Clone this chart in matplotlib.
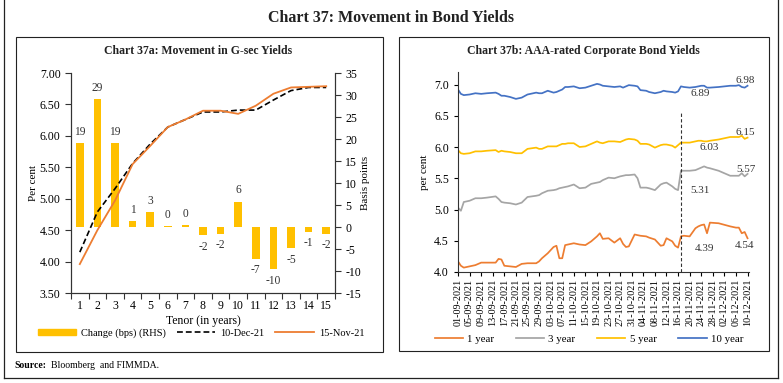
import matplotlib
matplotlib.use("Agg")
import matplotlib.pyplot as plt
import matplotlib.dates as mdates
from matplotlib.patches import Patch, Rectangle
from matplotlib.lines import Line2D
import numpy as np

plt.rcParams['font.family'] = ['Liberation Serif', 'DejaVu Serif']
plt.rcParams['axes.unicode_minus'] = False

# ---- Chart 37a data ----
tenor = list(range(1, 16))
yield_dec10 = [4.15, 4.79, 5.16, 5.56, 5.87, 6.14, 6.26, 6.38, 6.38, 6.41, 6.41, 6.57, 6.72, 6.77, 6.77]
yield_nov15 = [3.96, 4.50, 4.97, 5.55, 5.84, 6.14, 6.26, 6.40, 6.40, 6.35, 6.48, 6.67, 6.77, 6.78, 6.79]
change_bps = [19, 29, 19, 1.3, 3.3, 0.2, 0.4, -1.9, -1.5, 5.7, -7.2, -9.6, -4.8, -1.1, -1.5]

# ---- Chart 37b data ----
dates = ["2021-09-01", "2021-09-02", "2021-09-03", "2021-09-05", "2021-09-07", "2021-09-09",
         "2021-09-11", "2021-09-14", "2021-09-15", "2021-09-16", "2021-09-17", "2021-09-19",
         "2021-09-21", "2021-09-23", "2021-09-25", "2021-09-28", "2021-09-29", "2021-09-30",
         "2021-10-02", "2021-10-04", "2021-10-05", "2021-10-06", "2021-10-07", "2021-10-08",
         "2021-10-09", "2021-10-11", "2021-10-13", "2021-10-15", "2021-10-17", "2021-10-19",
         "2021-10-20", "2021-10-21", "2021-10-23", "2021-10-25", "2021-10-27", "2021-10-28",
         "2021-10-29", "2021-10-30", "2021-11-01", "2021-11-02", "2021-11-03", "2021-11-05",
         "2021-11-06", "2021-11-08", "2021-11-10", "2021-11-11", "2021-11-12", "2021-11-14",
         "2021-11-15", "2021-11-16", "2021-11-17", "2021-11-18", "2021-11-20", "2021-11-22",
         "2021-11-23", "2021-11-24", "2021-11-25", "2021-11-26", "2021-11-27", "2021-11-30",
         "2021-12-04", "2021-12-06", "2021-12-07", "2021-12-08", "2021-12-09", "2021-12-10"]
y10 = [6.92, 6.85, 6.83, 6.84, 6.86, 6.85, 6.86, 6.87, 6.85, 6.82, 6.82, 6.80, 6.77, 6.79,
       6.84, 6.87, 6.86, 6.86, 6.90, 6.87, 6.88, 6.90, 6.92, 6.96, 6.96, 6.97, 6.94, 6.95,
       6.98, 7.01, 7.00, 6.98, 6.97, 6.96, 6.97, 6.95, 6.97, 6.99, 6.98, 6.97, 6.91, 6.90,
       6.88, 6.86, 6.88, 6.90, 6.89, 6.88, 6.87, 6.89, 6.97, 6.96, 6.95, 6.96, 6.97, 6.98,
       6.98, 6.95, 6.95, 6.96, 6.98, 6.98, 6.99, 6.96, 6.95, 6.98]
y5 = [5.95, 5.90, 5.89, 5.90, 5.93, 5.93, 5.94, 5.95, 5.92, 5.94, 5.93, 5.92, 5.90, 5.90,
      5.97, 5.99, 5.97, 5.97, 6.01, 6.01, 6.01, 6.03, 6.05, 6.05, 6.06, 6.06, 6.00, 6.01,
      6.05, 6.09, 6.07, 6.06, 6.09, 6.09, 6.08, 6.10, 6.12, 6.13, 6.12, 6.10, 6.05, 6.05,
      6.04, 5.99, 6.03, 6.04, 6.04, 6.02, 5.99, 6.03, 6.07, 6.07, 6.07, 6.09, 6.10, 6.10,
      6.09, 6.09, 6.10, 6.12, 6.16, 6.16, 6.16, 6.18, 6.13, 6.15]
y3 = [5.03, 4.98, 5.12, 5.14, 5.18, 5.18, 5.19, 5.21, 5.17, 5.12, 5.11, 5.10, 5.08, 5.11,
      5.20, 5.22, 5.23, 5.26, 5.30, 5.31, 5.32, 5.34, 5.35, 5.36, 5.37, 5.40, 5.34, 5.35,
      5.41, 5.43, 5.44, 5.47, 5.51, 5.50, 5.53, 5.54, 5.55, 5.55, 5.56, 5.50, 5.35, 5.35,
      5.34, 5.31, 5.40, 5.42, 5.43, 5.37, 5.33, 5.31, 5.62, 5.62, 5.62, 5.63, 5.65, 5.67,
      5.69, 5.67, 5.66, 5.62, 5.54, 5.54, 5.54, 5.58, 5.53, 5.57]
y1 = [4.17, 4.10, 4.07, 4.09, 4.11, 4.15, 4.15, 4.15, 4.21, 4.20, 4.10, 4.09, 4.08, 4.13,
      4.14, 4.14, 4.17, 4.22, 4.30, 4.40, 4.42, 4.22, 4.22, 4.43, 4.44, 4.46, 4.44, 4.43,
      4.49, 4.57, 4.62, 4.53, 4.54, 4.47, 4.54, 4.45, 4.40, 4.41, 4.60, 4.59, 4.58, 4.57,
      4.55, 4.52, 4.42, 4.43, 4.54, 4.49, 4.42, 4.39, 4.57, 4.58, 4.57, 4.70, 4.73, 4.75,
      4.76, 4.62, 4.79, 4.78, 4.73, 4.71, 4.71, 4.62, 4.64, 4.54]
ref_date = "2021-11-16"
marker_date = "2021-11-17"

W, H = 783, 383
fig = plt.figure(figsize=(W / 100, H / 100), dpi=100)


def px_axes(x0, y0, x1, y1):
    return fig.add_axes([x0 / W, 1 - y1 / H, (x1 - x0) / W, (y1 - y0) / H])


def frame(x0, y0, x1, y1):
    fig.add_artist(Rectangle((x0 / W, 1 - y1 / H), (x1 - x0) / W, (y1 - y0) / H,
                             transform=fig.transFigure, fill=False, lw=0.8, ec='#222222'))


# outer frame (left, right, bottom)
for xs, ys in [([4, 4], [0, 378]), ([778, 778], [0, 378]), ([4, 778], [378, 378])]:
    fig.add_artist(Line2D([x / W for x in xs], [1 - y / H for y in ys],
                          transform=fig.transFigure, lw=0.9, color='#222222'))
frame(16, 37, 383, 352)
frame(399, 37, 769, 351)

fig.text(391 / W, 1 - 18 / H, "Chart 37: Movement in Bond Yields", ha='center', va='center',
         fontsize=11.5, fontweight='bold', color='#222222')
fig.text(14 / W, 1 - 366 / H, "Source:", ha='left', va='center', fontsize=7, fontweight='bold')
fig.text(51 / W, 1 - 366 / H, "Bloomberg  and FIMMDA.", ha='left', va='center', fontsize=7)

# ================= Chart 37a =================
fig.text(198 / W, 1 - 51 / H, "Chart 37a: Movement in G-sec Yields", ha='center', va='center',
         fontsize=8.5, fontweight='bold', color='#222222')

axb = px_axes(71, 73, 335, 293)
axb.bar(tenor, change_bps, width=0.44, color='#FFC000', zorder=1)
for t, v in zip(tenor, change_bps):
    off = 4 if v >= 0 else -4
    axb.annotate(f"{round(v):d}", (t, v), xytext=(0, off), textcoords='offset points',
                 ha='center', va='bottom' if v >= 0 else 'top', fontsize=8.3, color='#333333')

axl = axb.twinx()
axl.plot(tenor, yield_dec10, color='black', ls=(0, (3.5, 1.8)), lw=1.2, zorder=3)
axl.plot(tenor, yield_nov15, color='#ED7D31', lw=1.3, zorder=3)
axl.set_ylim(3.5, 7.0)
axl.set_yticks(np.arange(3.5, 7.01, 0.5))
axl.set_yticklabels([f"{v:.2f}" for v in np.arange(3.5, 7.01, 0.5)])
axl.yaxis.tick_left()
axl.yaxis.set_label_position('left')
axl.set_ylabel("Per cent", fontsize=8, labelpad=1)

axb.set_ylim(-15, 35)
axb.set_yticks(range(-15, 40, 5))
axb.yaxis.tick_right()
axb.yaxis.set_label_position('right')
axb.set_ylabel("Basis points", fontsize=8, labelpad=0)

for a in (axb, axl):
    a.set_xlim(0.5, 15.5)
    a.spines['top'].set_visible(False)
    for s in a.spines.values():
        s.set_color('#333333')
        s.set_linewidth(0.8)
    a.tick_params(axis='y', labelsize=8.5, length=4, width=0.8, color='#333333')
axb.set_xticks(tenor)
axb.set_xticks(np.arange(0.5, 15.6, 1), minor=True)
axb.tick_params(axis='x', which='major', length=0, labelsize=8.5, pad=5)
axb.tick_params(axis='x', which='minor', length=4, width=0.8, color='#333333')
axb.set_xlabel("Tenor (in years)", fontsize=8.5, labelpad=2)

fig.legend([Patch(color='#FFC000'),
            Line2D([], [], color='black', ls=(0, (3.5, 1.8)), lw=1.2),
            Line2D([], [], color='#ED7D31', lw=1.3)],
           ["Change (bps) (RHS)", "10-Dec-21", "15-Nov-21"],
           loc='center', bbox_to_anchor=(201 / W, 1 - 333 / H), ncol=3, frameon=False,
           fontsize=7.5, handlelength=3.7, handleheight=0.6, columnspacing=1.0, handletextpad=0.5)

# ================= Chart 37b =================
fig.text(583 / W, 1 - 51 / H, "Chart 37b: AAA-rated Corporate Bond Yields", ha='center',
         va='center', fontsize=8.5, fontweight='bold', color='#222222')

ax2 = px_axes(458, 72, 749, 272)
dts = np.array(dates, dtype='datetime64[D]')
series = [("1 year", y1, '#ED7D31'), ("3 year", y3, '#A5A5A5'),
          ("5 year", y5, '#FFC000'), ("10 year", y10, '#4472C4')]
handles = []
for name, vals, col in series:
    h, = ax2.plot(dts, vals, color=col, lw=1.25, label=name)
    handles.append(h)

mdate = np.datetime64(marker_date)
ax2.plot([mdate, mdate], [4.0, 6.55], color='#333333', ls=(0, (3, 2)), lw=0.8)

ri = dates.index(ref_date)
ref_offsets = {"10 year": (22, -2), "5 year": (31, -2), "3 year": (22, 0), "1 year": (26, -1)}
end_offsets = {"10 year": (-2, 5), "5 year": (-2, 5), "3 year": (-2, 4), "1 year": (-3, -7)}
for name, vals, col in series:
    ax2.annotate(f"{vals[ri]:.2f}", (dts[ri], vals[ri]), xytext=ref_offsets[name],
                 textcoords='offset pixels', ha='center', va='center', fontsize=8, color='#333333')
    ax2.annotate(f"{vals[-1]:.2f}", (dts[-1], vals[-1]), xytext=end_offsets[name],
                 textcoords='offset pixels', ha='center', va='center', fontsize=8, color='#333333')

ax2.set_xlim(np.datetime64("2021-09-01"), np.datetime64("2021-12-10") + np.timedelta64(12, 'h'))
ax2.set_ylim(4.0, 7.2)
ax2.set_yticks(np.arange(4.0, 7.01, 0.5))
ax2.yaxis.set_major_formatter(plt.FormatStrFormatter('%.1f'))
tick_dates = np.arange(np.datetime64("2021-09-01"), np.datetime64("2021-12-11"), 4)
ax2.set_xticks(tick_dates)
ax2.xaxis.set_major_formatter(mdates.DateFormatter('%d-%m-%Y'))
ax2.tick_params(axis='x', rotation=90, labelsize=7.3, length=3, width=0.8, pad=2)
ax2.tick_params(axis='y', labelsize=8.5, length=3, width=0.8)
ax2.set_ylabel("per cent", fontsize=8, labelpad=4)
for s in ('top', 'right'):
    ax2.spines[s].set_visible(False)
for s in ('left', 'bottom'):
    ax2.spines[s].set_color('#333333')
    ax2.spines[s].set_linewidth(0.8)

fig.legend(handles, [s[0] for s in series], loc='center', bbox_to_anchor=(589 / W, 1 - 339 / H),
           ncol=4, frameon=False, fontsize=7.8, handlelength=2.6, columnspacing=2.0, handletextpad=0.4)

fig.savefig("out.png", dpi=100)
